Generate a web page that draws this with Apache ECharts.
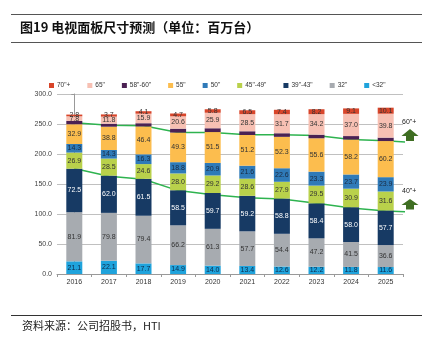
<!DOCTYPE html>
<html>
<head>
<meta charset="utf-8">
<style>html,body{margin:0;padding:0;background:#fff}#c{width:437px;height:347px}</style>
<script src="https://cdn.jsdelivr.net/npm/echarts@6/dist/echarts.min.js"></script>
</head>
<body>
<div id="c"></div>
<script>
const years = ['2016','2017','2018','2019','2020','2021','2022','2023','2024','2025'];
const yTicks = [0, 50, 100, 150, 200, 250, 300];
const s_lt32   = [21.1, 22.1, 17.7, 14.9, 14.0, 13.4, 12.6, 12.2, 11.8, 11.6];
const s_32     = [81.9, 79.8, 79.4, 66.2, 61.3, 57.7, 54.4, 47.2, 41.5, 36.6];
const s_39_43  = [72.5, 62.0, 61.5, 58.5, 59.7, 59.2, 58.8, 58.4, 58.0, 57.7];
const s_45_49  = [26.9, 28.5, 24.6, 28.0, 29.2, 28.6, 27.9, 29.5, 30.9, 31.6];
const s_50     = [14.3, 14.3, 16.3, 18.8, 20.9, 21.6, 22.6, 23.3, 23.7, 23.9];
const s_55     = [32.9, 38.8, 46.4, 49.3, 51.5, 51.2, 52.3, 55.6, 58.2, 60.2];
const s_58_60  = [5.5, 5.0, 5.4, 6.5, 6.3, 6.2, 6.0, 6.0, 5.8, 5.7];
const s_65     = [7.8, 11.8, 15.9, 20.6, 25.9, 28.5, 31.7, 34.2, 37.0, 39.8];
const s_70     = [2.8, 3.7, 4.1, 4.7, 5.8, 6.5, 7.4, 8.2, 9.1, 10.1];
// trend annotation lines, x = category index
const line60 = [[0,252],[1,248],[2,247],[3,236],[4,236],[5,232],[6,232],[7,231],[8,224],[9,222],[9.93,219]];
const line40 = [[0,176],[1,163],[2,158],[3,139],[4,132],[5,127],[6,125],[7,118],[8,110],[9,105],[9.93,103]];

const chart = echarts.init(document.getElementById('c'), null, {renderer:'canvas'});
const FONT = 'Liberation Sans, Arial, sans-serif';
function bar(name, data, color, labelColor, showLabel) {
  return {
    name, type:'bar', stack:'t', data, barWidth:16, z:3,
    itemStyle:{color},
    label:{show:showLabel, position:'inside', fontSize:7, fontFamily:FONT, color:labelColor,
      formatter:p=>p.value.toFixed(1)}
  };
}
const option = {
  animation:false,
  textStyle:{fontFamily:FONT},
  legend:{
    top:77, left:44, itemWidth:5, itemHeight:5, itemGap:17,
    textStyle:{fontSize:6.5, color:'#333', fontFamily:FONT, padding:[0,0,0,-2]},
    data:['70"+','65"','58"-60"','55"','50"','45"-49"','39"-43"','32"','<32"'],
    icon:'rect'
  },
  grid:{left:57, right:34, top:94, bottom:73, containLabel:false},
  xAxis:[{
    type:'category', data:years,
    axisLine:{lineStyle:{color:'#999'}},
    axisTick:{show:true, alignWithLabel:false, length:3, lineStyle:{color:'#999'}},
    axisLabel:{fontSize:7, color:'#333', margin:5}
  },{
    type:'value', min:-0.5, max:9.5, show:false
  }],
  yAxis:{
    type:'value', min:0, max:300, interval:50,
    axisLine:{show:true, lineStyle:{color:'#999'}},
    axisTick:{show:true, length:3, lineStyle:{color:'#999'}},
    splitLine:{lineStyle:{color:'#c0c0c0'}},
    axisLabel:{fontSize:7, color:'#444', margin:5, formatter:v=>v.toFixed(1)}
  },
  series:[
    bar('<32"', s_lt32, '#1fa3dc', '#0d2a4a', true),
    bar('32"', s_32, '#a7abb0', '#333', true),
    bar('39"-43"', s_39_43, '#173a64', '#fff', true),
    bar('45"-49"', s_45_49, '#b9d14b', '#333', true),
    bar('50"', s_50, '#2f7ab8', '#1a2a40', true),
    bar('55"', s_55, '#fcbd4e', '#333', true),
    bar('58"-60"', s_58_60, '#4b2153', '#fff', false),
    bar('65"', s_65, '#f7c0b3', '#333', true),
    bar('70"+', s_70, '#d8452a', '#333', true),
    {type:'line', xAxisIndex:1, data:line60, z:1, symbol:'none', clip:false,
      lineStyle:{color:'#2eb34f', width:1.5}, silent:true},
    {type:'line', xAxisIndex:1, data:line40, z:1, symbol:'none', clip:false,
      lineStyle:{color:'#2eb34f', width:1.5}, silent:true}
  ],
  graphic:[
    {type:'line', shape:{x1:11,y1:14.5,x2:422,y2:14.5}, style:{stroke:'#555', lineWidth:1}},
    {type:'line', shape:{x1:11,y1:42.5,x2:422,y2:42.5}, style:{stroke:'#555', lineWidth:1}},
    {type:'text', left:20, top:21, style:{text:'图19 电视面板尺寸预测（单位：百万台）', font:'bold 13px "Noto Sans CJK SC", sans-serif', fill:'#111'}},
    {type:'line', shape:{x1:11,y1:315.5,x2:422,y2:315.5}, style:{stroke:'#333', lineWidth:1}},
    {type:'text', left:22, top:320, style:{text:'资料来源：公司招股书，HTI', font:'11px "Noto Sans CJK SC", sans-serif', fill:'#222'}},
    {type:'text', left:402, top:119, style:{text:'60"+', font:'7px Liberation Sans, Arial', fill:'#222'}},
    {type:'text', left:402, top:188, style:{text:'40"+', font:'7px Liberation Sans, Arial', fill:'#222'}},
    {type:'polygon', shape:{points:[[410,129],[418.5,136],[414,136],[414,141],[406,141],[406,136],[401.5,136]]}, style:{fill:'#3f6e22'}},
    {type:'polygon', shape:{points:[[410,199],[418.5,205],[414,205],[414,209.5],[406,209.5],[406,205],[401.5,205]]}, style:{fill:'#3f6e22'}}
  ]
};
chart.setOption(option);
</script>
</body>
</html>
